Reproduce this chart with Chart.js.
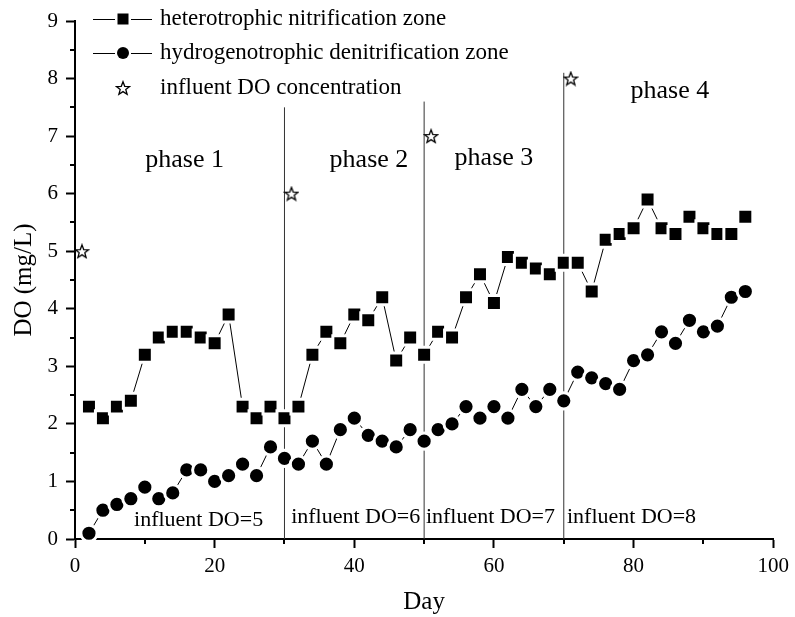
<!DOCTYPE html>
<html lang="en">
<head>
  <meta charset="UTF-8">
  <title>DO in the two zones</title>
  <style>
    html, body { margin: 0; padding: 0; background: #fff; }
    #chartContainer { position: relative; width: 795px; height: 617px; }
  </style>
  <script src="https://cdn.jsdelivr.net/npm/chart.js"></script>
</head>
<body>
  <div id="chartContainer">
    <canvas id="chartCanvas" width="795" height="617"></canvas>
  </div>

  <script>
    // sampling days (every second day)
    const days = [2, 4, 6, 8, 10, 12, 14, 16, 18, 20, 22, 24, 26, 28, 30, 32, 34, 36, 38, 40, 42, 44, 46, 48,
                  50, 52, 54, 56, 58, 60, 62, 64, 66, 68, 70, 72, 74, 76, 78, 80, 82, 84, 86, 88, 90, 92, 94, 96];

    // DO (mg/L)
    const heteroDO = [2.3, 2.1, 2.3, 2.4, 3.2, 3.5, 3.6, 3.6, 3.5, 3.4, 3.9, 2.3, 2.1, 2.3, 2.1, 2.3, 3.2, 3.6, 3.4, 3.9, 3.8, 4.2, 3.1, 3.5,
                      3.2, 3.6, 3.5, 4.2, 4.6, 4.1, 4.9, 4.8, 4.7, 4.6, 4.8, 4.8, 4.3, 5.2, 5.3, 5.4, 5.9, 5.4, 5.3, 5.6, 5.4, 5.3, 5.3, 5.6];
    const hydroDO = [0.1, 0.5, 0.6, 0.7, 0.9, 0.7, 0.8, 1.2, 1.2, 1.0, 1.1, 1.3, 1.1, 1.6, 1.4, 1.3, 1.7, 1.3, 1.9, 2.1, 1.8, 1.7, 1.6, 1.9,
                     1.7, 1.9, 2.0, 2.3, 2.1, 2.3, 2.1, 2.6, 2.3, 2.6, 2.4, 2.9, 2.8, 2.7, 2.6, 3.1, 3.2, 3.6, 3.4, 3.8, 3.6, 3.7, 4.2, 4.3];

    // influent DO for each phase
    const influentDays = [1, 31, 51, 71];
    const influentDO = [5, 6, 7, 8];

    // phase boundaries (day) and how high the separator line goes
    const phaseBounds = [30, 50, 70];
    const phaseLineTops = [7.5, 7.6, 8.1];

    const seriesNames = ['heterotrophic nitrification zone', 'hydrogenotrophic denitrification zone', 'influent DO concentration'];
    const phaseLabels = ['phase 1', 'phase 2', 'phase 3', 'phase 4'];
    const influentLabels = ['influent DO=5', 'influent DO=6', 'influent DO=7', 'influent DO=8'];

    // where the annotation texts sit, in data units [day, DO]
    const phaseLabelAt = [[15.7, 6.59], [42.1, 6.59], [60.0, 6.62], [85.2, 7.78]];
    const influentLabelAt = [[17.7, 0.33], [40.2, 0.38], [59.5, 0.38], [79.7, 0.38]];

    const serif = "'Liberation Serif', 'Times New Roman', serif";
    Chart.defaults.font.family = serif;
    Chart.defaults.color = '#000';

    // hollow five point star used as marker
    function makeStar(size) {
      const c = document.createElement('canvas');
      c.width = size; c.height = size;
      const g = c.getContext('2d');
      const cx = size / 2, cy = size / 2 + 0.7, ro = size / 2 - 1, ri = ro * 0.42;
      g.beginPath();
      for (let i = 0; i < 10; i++) {
        const r = i % 2 === 0 ? ro : ri;
        const a = -Math.PI / 2 + i * Math.PI / 5;
        const px = cx + r * Math.cos(a), py = cy + r * Math.sin(a);
        if (i === 0) g.moveTo(px, py); else g.lineTo(px, py);
      }
      g.closePath();
      g.fillStyle = '#fff';
      g.fill();
      g.strokeStyle = '#000';
      g.lineWidth = 1.3;
      g.stroke();
      return c;
    }
    const starImg = makeStar(16);

    // zip arrays into {x, y} points
    function toPoints(xs, ys) {
      return xs.map((x, i) => ({ x: x, y: ys[i] }));
    }

    const datasets = [
      {
        label: seriesNames[0],
        data: toPoints(days, heteroDO),
        showLine: true,
        borderColor: '#000',
        borderWidth: 1,
        pointStyle: 'rect',
        pointRadius: 10.6,
        pointBackgroundColor: '#000',
        pointBorderColor: '#fff',
        pointBorderWidth: 3,
        clip: false,
        order: 0
      },
      {
        label: seriesNames[1],
        data: toPoints(days, hydroDO),
        showLine: true,
        borderColor: '#000',
        borderWidth: 1,
        pointStyle: 'circle',
        pointRadius: 8.1,
        pointBackgroundColor: '#000',
        pointBorderColor: '#fff',
        pointBorderWidth: 3,
        clip: false,
        order: 0
      },
      {
        label: seriesNames[2],
        data: toPoints(influentDays, influentDO),
        showLine: false,
        pointStyle: starImg,
        pointRadius: 7,
        clip: false,
        order: 0
      }
    ];

    // vertical separators between the phases
    phaseBounds.forEach((d, i) => {
      datasets.push({
        label: 'bound' + i,
        data: [{ x: d, y: 0 }, { x: d, y: phaseLineTops[i] }],
        showLine: true,
        borderColor: '#333',
        borderWidth: 1,
        pointRadius: 0,
        order: 1
      });
    });

    // minor ticks, texts inside the plot, and the legend
    const extrasPlugin = {
      id: 'extras',
      afterDraw(chart) {
        const ctx = chart.ctx;
        const xs = chart.scales.x, ys = chart.scales.y;
        const area = chart.chartArea;

        // minor ticks
        ctx.save();
        ctx.strokeStyle = '#000';
        ctx.lineWidth = 2;
        ctx.beginPath();
        for (let v = 0.5; v < 9; v += 1) {
          const py = Math.round(ys.getPixelForValue(v));
          ctx.moveTo(area.left, py);
          ctx.lineTo(area.left - 5, py);
        }
        for (let v = 10; v < 100; v += 20) {
          const px = Math.round(xs.getPixelForValue(v));
          ctx.moveTo(px, area.bottom);
          ctx.lineTo(px, area.bottom + 5);
        }
        ctx.stroke();
        ctx.restore();

        // phase and influent texts
        ctx.save();
        ctx.fillStyle = '#000';
        ctx.textAlign = 'center';
        ctx.textBaseline = 'middle';
        ctx.font = '26px ' + serif;
        phaseLabels.forEach((t, i) => {
          ctx.fillText(t, xs.getPixelForValue(phaseLabelAt[i][0]), ys.getPixelForValue(phaseLabelAt[i][1]));
        });
        ctx.font = '22px ' + serif;
        influentLabels.forEach((t, i) => {
          ctx.fillText(t, xs.getPixelForValue(influentLabelAt[i][0]), ys.getPixelForValue(influentLabelAt[i][1]));
        });
        ctx.restore();

        // legend in the upper left corner
        ctx.save();
        const rows = [19, 53, 88];
        const lx0 = 93, lx1 = 152, mx = 123;
        ctx.font = '23px ' + serif;
        ctx.textAlign = 'left';
        ctx.textBaseline = 'middle';
        rows.forEach((y, i) => {
          if (i < 2) {
            ctx.strokeStyle = '#000';
            ctx.lineWidth = 1;
            ctx.beginPath();
            ctx.moveTo(lx0, y + 0.5);
            ctx.lineTo(lx1, y + 0.5);
            ctx.stroke();
            ctx.fillStyle = '#fff';
            ctx.fillRect(mx - 8, y - 8, 16, 16);
            ctx.fillStyle = '#000';
            if (i === 0) {
              ctx.fillRect(mx - 5.5, y - 5.5, 11, 11);
            } else {
              ctx.beginPath();
              ctx.arc(mx, y, 6, 0, Math.PI * 2);
              ctx.fill();
            }
          } else {
            ctx.drawImage(starImg, mx - 8, y - 8);
          }
          ctx.fillStyle = '#000';
          ctx.fillText(seriesNames[i], 160, y);
        });
        ctx.restore();
      }
    };

    const chart = new Chart(document.getElementById('chartCanvas').getContext('2d'), {
      type: 'scatter',
      data: { datasets: datasets },
      plugins: [extrasPlugin],
      options: {
        responsive: false,
        animation: false,
        events: [],
        layout: { padding: { top: 21, right: 18, left: 0, bottom: 0 } },
        plugins: {
          legend: { display: false },
          tooltip: { enabled: false }
        },
        scales: {
          x: {
            type: 'linear',
            min: 0,
            max: 100,
            border: { color: '#000', width: 2 },
            grid: { drawOnChartArea: false, drawTicks: true, tickLength: 9, tickWidth: 2, tickColor: '#000' },
            ticks: { stepSize: 20, padding: 6, font: { size: 21 }, color: '#000', maxRotation: 0 },
            title: { display: true, text: 'Day', font: { size: 25 }, padding: { top: 0, bottom: 0 } },
            afterFit(scale) { scale.height = 78; }
          },
          y: {
            type: 'linear',
            min: 0,
            max: 9,
            border: { color: '#000', width: 2 },
            grid: { drawOnChartArea: false, drawTicks: true, tickLength: 9, tickWidth: 2, tickColor: '#000' },
            ticks: { stepSize: 1, padding: 8, font: { size: 21 }, color: '#000' },
            title: { display: true, text: 'DO (mg/L)', font: { size: 25 }, padding: { top: 9, bottom: 0 } },
            afterFit(scale) { scale.width = 75; }
          }
        }
      }
    });
  </script>
</body>
</html>
